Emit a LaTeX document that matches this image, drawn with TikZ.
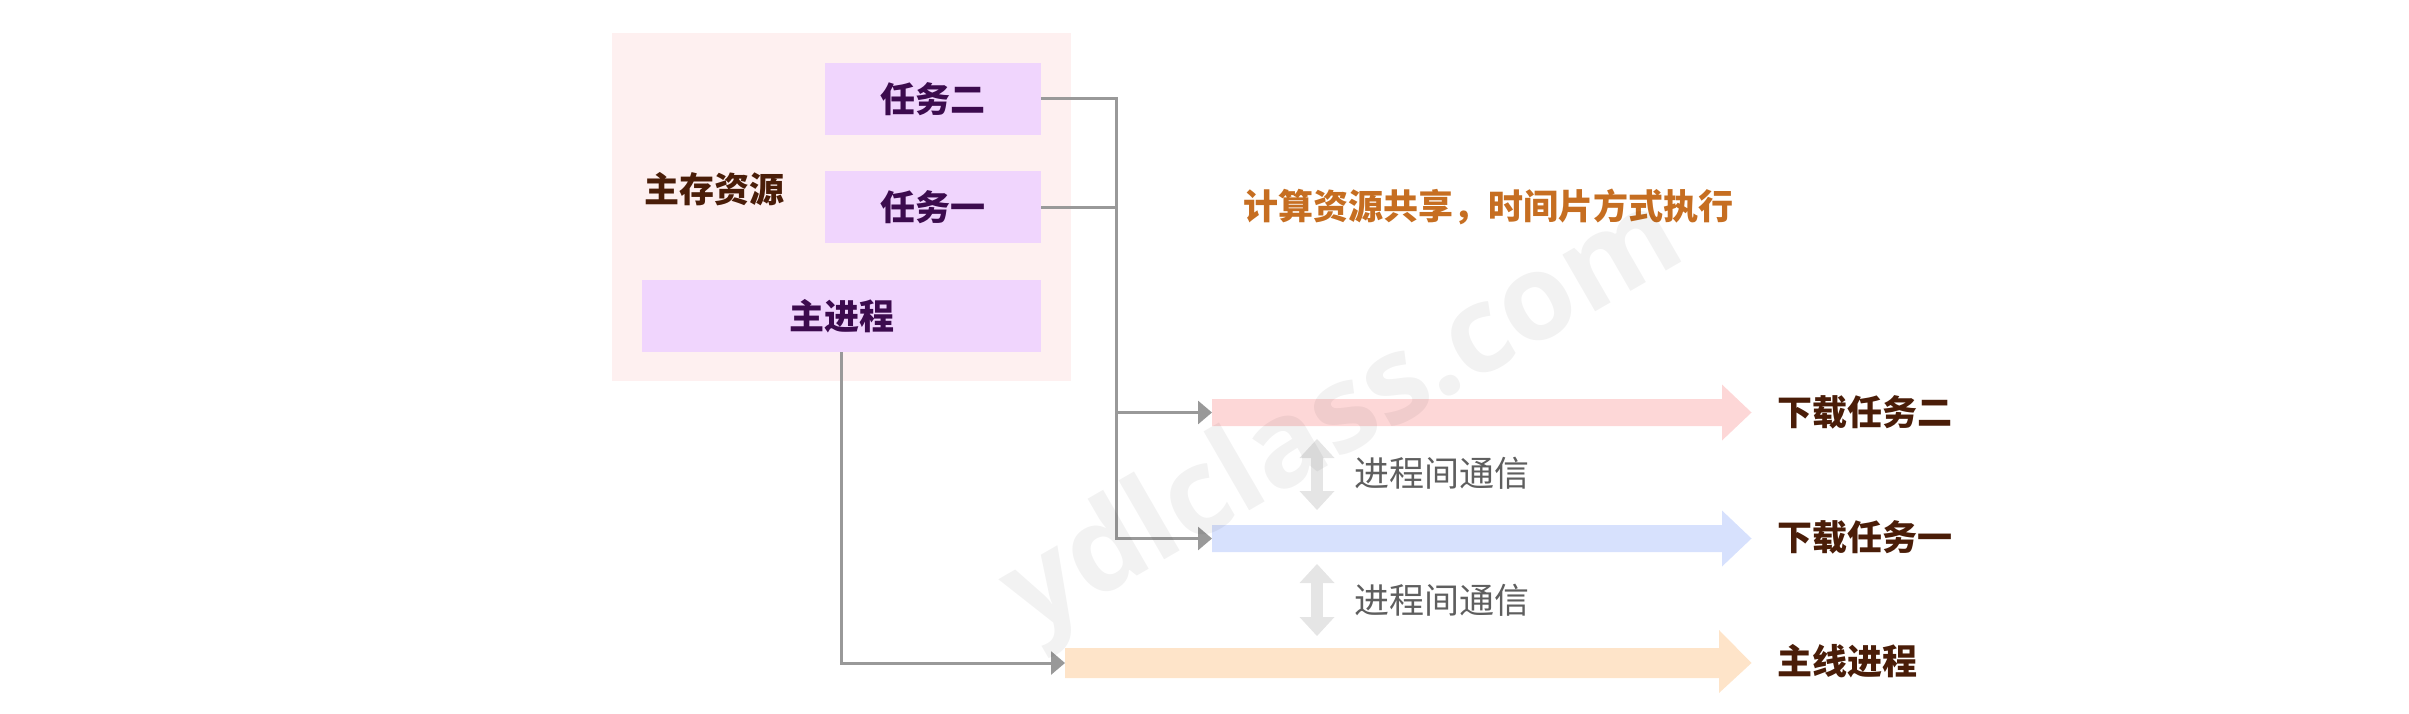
\documentclass[tikz,border=0pt]{standalone}
\usepackage{fontspec}
\usetikzlibrary{positioning, arrows.meta}
\newfontfamily\cjk{Noto Sans CJK SC}
\newfontfamily\wmfont{Open Sans}
\definecolor{poolpink}{RGB}{254,240,240}
\definecolor{taskviolet}{RGB}{240,213,253}
\definecolor{taskink}{RGB}{60,11,78}
\definecolor{brownink}{RGB}{74,29,8}
\definecolor{noteorange}{RGB}{198,110,33}
\definecolor{wiregray}{RGB}{153,153,153}
\definecolor{ipcgray}{RGB}{229,229,229}
\definecolor{ipcink}{RGB}{94,94,94}
\definecolor{flowpink}{RGB}{253,215,215}
\definecolor{flowblue}{RGB}{215,225,253}
\definecolor{floworange}{RGB}{254,228,201}
\tikzset{
x=1pt, y=-1pt, % one unit per pixel, y pointing down
>={Triangle[length=14pt, width=23pt]}, % filled gray arrow heads
every node/.style={inner sep=0pt}, % text sits tight in its node
task/.style={fill=taskviolet, text=taskink, font=\cjk\bfseries\fontsize{35}{35}\selectfont, minimum width=216pt, minimum height=72pt}, % the violet task boxes
tag/.style={text=brownink, font=\cjk\bfseries\fontsize{35}{35}\selectfont}, % dark brown labels
ipctext/.style={text=ipcink, font=\cjk\fontsize{35}{35}\selectfont}, % gray labels between the flows
wire/.style={draw=wiregray, line width=3pt, ->}, % gray elbow connectors
ipc/.style={draw=ipcgray, line width=12pt, {Triangle[length=19pt, width=35pt, line width=0pt]}-{Triangle[length=19pt, width=35pt, line width=0pt]}}, % light double arrows
}

\begin{document}
\begin{tikzpicture}
      \useasboundingbox (0,0) rectangle (2409,714);
      \node[fill=poolpink, minimum width=459pt, minimum height=348pt] (pool) at (841.5,207) {};
      \node[tag] (pooltxt) at (714,189) {主存资源};
      \node[task] (t2) at (933,99) {任务二};
      \node[task, below=36pt of t2] (t1) {任务一};
      \node[task, minimum width=399pt, below=36pt of t1.south east, anchor=north east] (mainp) {主进程};
      \node[tag, text=noteorange] (share) at (1488,207) {计算资源共享，时间片方式执行};

      % flows
      \fill[flowpink] (1212,399) -- (1722,399) -- (1722,384.5) -- (1751.5,412.5) -- (1722,440.5) -- (1722,426) -- (1212,426) -- cycle;
      \fill[flowblue] (1212,525) -- (1722,525) -- (1722,510.5) -- (1751.5,538.5) -- (1722,566.5) -- (1722,552) -- (1212,552) -- cycle;
      \fill[floworange] (1065,648) -- (1719,648) -- (1719,630) -- (1751.5,663) -- (1719,693) -- (1719,678) -- (1065,678) -- cycle;
      \coordinate (f2) at (1212,412.5);
      \coordinate (f1) at (1212,538.5);
      \coordinate (f0) at (1065,663);
      \node[tag, anchor=west] (l2) at (1777,412.5) {下载任务二};
      \node[tag, anchor=west] (l1) at (1777,537.5) {下载任务一};
      \node[tag, anchor=west] (l0) at (1777,661) {主线进程};

      \coordinate (bus) at (1116,99);
      \draw[wire] (t2.east) -- (bus) |- (f1);
      \draw[wire] (bus |- f2) -- (f2);
      \draw[wire, -] (t1.east) -- (t1.east -| bus);
      \draw[wire] (mainp.south) |- (f0);

      \node[ipctext, anchor=west] (c1) at (1354,473) {进程间通信};
      \node[ipctext, anchor=west] (c2) at (1354,600) {进程间通信};
      \coordinate (c1a) at (1317,439);
      \coordinate (c1b) at (1317,510);
      \coordinate (c2a) at (1317,564);
      \coordinate (c2b) at (1317,636);
      \draw[ipc] (c1a) -- (c1b);
      \draw[ipc] (c2a) -- (c2b);

      \node[rotate=30, text=black, text opacity=0.05, font=\wmfont\bfseries\fontsize{120}{120}\selectfont] (mark) at (1345,420) {ydlclass.com};
    \end{tikzpicture}
\end{document}
